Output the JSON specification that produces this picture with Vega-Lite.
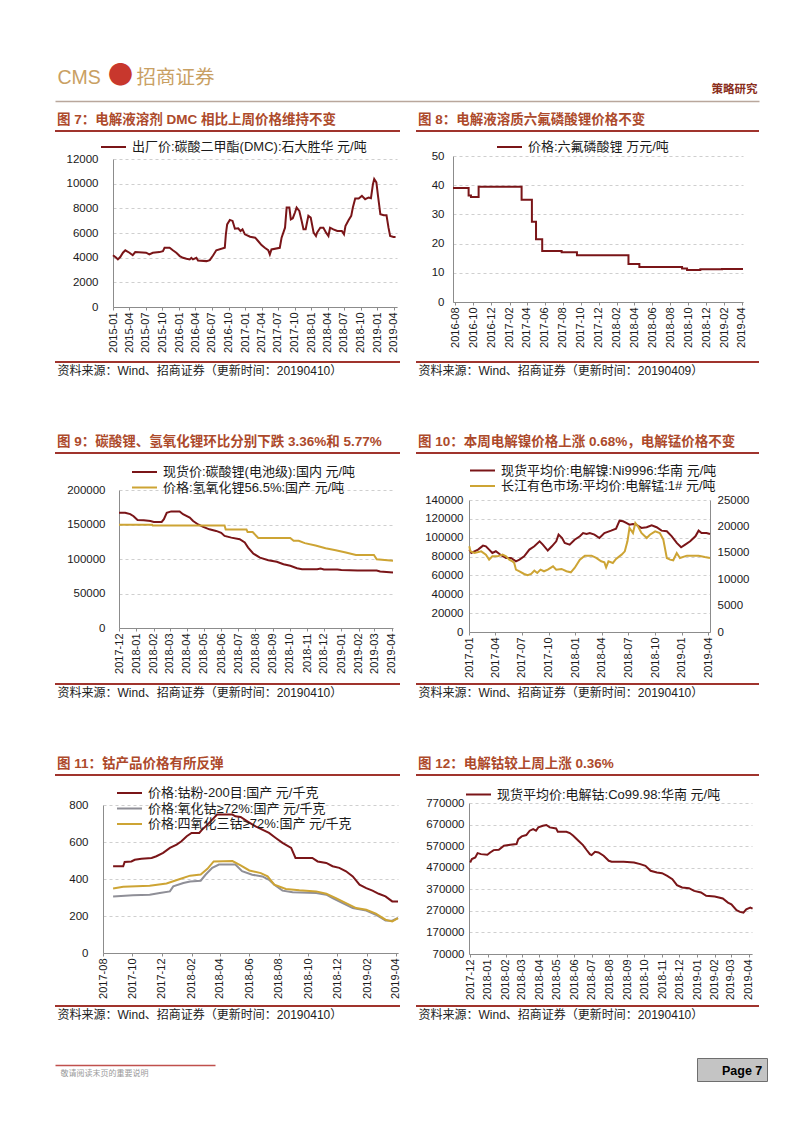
{
"$schema": "https://vega.github.io/schema/vega-lite/v6.json",
"background": "white",
"padding": {"left": 54, "top": 20, "right": 0, "bottom": 0},
"autosize": {"type": "pad"},
"columns": 2,
"spacing": {"row": 91, "column": 16},
"bounds": "flush",
"align": "each",
"resolve": {"scale": {"color": "independent"}, "legend": {"color": "independent"}},
"config": {
  "font": "Liberation Sans, Noto Sans CJK SC, sans-serif",
  "view": {"stroke": null},
  "title": {"fontSize": 13.5, "fontWeight": "bold", "color": "#AD4A2B", "anchor": "start", "frame": "group", "offset": 5, "dx": 2, "baseline": "alphabetic", "font": "Liberation Sans, Noto Sans CJK SC"},
  "axis": {"labelFont": "Liberation Sans, Noto Sans CJK SC", "labelFontSize": 11.5, "labelColor": "#1a1a1a", "domainColor": "#8C8C8C", "tickColor": "#8C8C8C", "gridColor": "#CFCFCF", "gridDash": [3, 3], "labelFlush": false, "labelOverlap": false, "labelBound": false, "titleFont": "Liberation Sans, Noto Sans CJK SC", "titleFontWeight": "normal", "titleFontSize": 12, "titleColor": "#222222"},
  "axisX": {"labelAngle": -90, "labelAlign": "right", "labelBaseline": "middle", "tickSize": 3, "labelPadding": 2, "grid": false, "labelFontSize": 11, "titleAlign": "left", "titleAnchor": "start", "titleBaseline": "alphabetic", "titleX": 2},
  "axisY": {"ticks": false, "grid": true, "format": "d"},
  "legend": {"orient": "none", "symbolType": "M-6.25,0H6.25", "symbolSize": 16, "symbolStrokeWidth": 2.5, "symbolOffset": 5, "labelFontSize": 13, "labelFont": "Liberation Sans, Noto Sans CJK SC", "labelColor": "#1a1a1a", "labelLimit": 500, "padding": 0, "rowPadding": 1.5, "labelOffset": 12},
  "line": {"strokeWidth": 2}
},
"datasets": {
  "d7": [
    {"d":"2015/01/01","v":4200},{"d":"2015/01/19","v":3990},{"d":"2015/01/28","v":3860},{"d":"2015/02/10","v":4050},{"d":"2015/02/25","v":4400},{"d":"2015/03/10","v":4600},{"d":"2015/04/02","v":4400},{"d":"2015/04/20","v":4200},{"d":"2015/05/04","v":4450},{"d":"2015/07/03","v":4400},{"d":"2015/07/21","v":4260},{"d":"2015/08/09","v":4400},{"d":"2015/09/15","v":4450},{"d":"2015/10/04","v":4530},{"d":"2015/10/13","v":4800},{"d":"2015/11/10","v":4800},{"d":"2015/11/28","v":4600},{"d":"2015/12/17","v":4400},
    {"d":"2016/01/05","v":4130},{"d":"2016/01/23","v":3990},{"d":"2016/02/11","v":3910},{"d":"2016/02/29","v":3860},{"d":"2016/03/09","v":3990},{"d":"2016/03/18","v":3860},{"d":"2016/04/06","v":3990},{"d":"2016/04/15","v":3770},{"d":"2016/06/01","v":3720},{"d":"2016/06/19","v":3800},{"d":"2016/07/07","v":4180},{"d":"2016/07/25","v":4600},{"d":"2016/09/10","v":4800},{"d":"2016/09/16","v":5900},{"d":"2016/09/23","v":6700},{"d":"2016/10/08","v":7060},{"d":"2016/10/23","v":6980},{"d":"2016/11/05","v":6350},{"d":"2016/11/23","v":6380},{"d":"2016/12/06","v":6160},{"d":"2016/12/17","v":6300},{"d":"2016/12/30","v":5890},
    {"d":"2017/01/28","v":5700},{"d":"2017/02/25","v":5620},{"d":"2017/03/13","v":5350},{"d":"2017/04/01","v":5020},{"d":"2017/04/19","v":4800},{"d":"2017/05/08","v":4610},{"d":"2017/05/17","v":4260},{"d":"2017/05/26","v":4670},{"d":"2017/07/11","v":4800},{"d":"2017/07/21","v":5620},{"d":"2017/08/09","v":6430},{"d":"2017/08/18","v":8060},{"d":"2017/09/02","v":8060},{"d":"2017/09/10","v":7110},{"d":"2017/09/21","v":7200},{"d":"2017/10/03","v":7660},{"d":"2017/10/12","v":8060},{"d":"2017/10/27","v":7790},{"d":"2017/11/09","v":6980},{"d":"2017/11/19","v":6300},{"d":"2017/12/01","v":6300},{"d":"2017/12/16","v":7390},{"d":"2017/12/29","v":7250},
    {"d":"2018/01/14","v":6030},{"d":"2018/01/27","v":5760},{"d":"2018/02/02","v":6030},{"d":"2018/02/20","v":6430},{"d":"2018/03/09","v":6430},{"d":"2018/03/24","v":6030},{"d":"2018/04/06","v":5760},{"d":"2018/04/15","v":6430},{"d":"2018/05/03","v":6300},{"d":"2018/05/25","v":6160},{"d":"2018/06/19","v":6160},{"d":"2018/07/01","v":5890},{"d":"2018/07/09","v":6570},{"d":"2018/07/26","v":7030},{"d":"2018/08/10","v":7390},{"d":"2018/08/19","v":8060},{"d":"2018/09/01","v":8800},{"d":"2018/09/20","v":8800},{"d":"2018/10/08","v":9010},{"d":"2018/10/26","v":8740},{"d":"2018/11/14","v":8880},{"d":"2018/11/27","v":8820},{"d":"2018/12/08","v":9960},{"d":"2018/12/15","v":10380},{"d":"2018/12/27","v":10100},
    {"d":"2019/01/05","v":9010},{"d":"2019/01/18","v":7520},{"d":"2019/02/06","v":7440},{"d":"2019/02/21","v":7440},{"d":"2019/03/04","v":6430},{"d":"2019/03/13","v":5760},{"d":"2019/04/01","v":5680},{"d":"2019/04/12","v":5680}
  ],
  "d8": [
    {"d":"2016/07/24","v":39},{"d":"2016/09/15","v":36.5},{"d":"2016/09/23","v":36},{"d":"2016/10/19","v":39.5},{"d":"2017/03/14","v":35},{"d":"2017/04/18","v":27.5},{"d":"2017/05/02","v":21.5},{"d":"2017/05/23","v":17.5},{"d":"2017/07/28","v":17},{"d":"2017/09/18","v":16},{"d":"2018/03/12","v":13},{"d":"2018/04/18","v":12},{"d":"2018/09/10","v":11.5},{"d":"2018/09/27","v":11},{"d":"2018/11/11","v":11.2},{"d":"2019/01/24","v":11.3},{"d":"2019/04/05","v":11.3}
  ],
  "d9a": [
    {"d":"2017/12/01","v":167000},{"d":"2017/12/12","v":167000},{"d":"2017/12/21","v":165000},{"d":"2017/12/27","v":162000},{"d":"2018/01/03","v":156600},{"d":"2018/01/14","v":156000},{"d":"2018/01/26","v":155000},{"d":"2018/02/01","v":153700},{"d":"2018/02/15","v":153700},{"d":"2018/02/19","v":157600},{"d":"2018/02/24","v":167000},{"d":"2018/03/04","v":169000},{"d":"2018/03/19","v":169000},{"d":"2018/03/25","v":165000},{"d":"2018/04/06","v":160000},{"d":"2018/04/12","v":155000},{"d":"2018/04/21","v":150000},{"d":"2018/04/30","v":146500},{"d":"2018/05/11","v":143000},{"d":"2018/05/23","v":140700},{"d":"2018/06/01","v":138000},{"d":"2018/06/07","v":133500},{"d":"2018/06/19","v":131000},{"d":"2018/07/04","v":128700},{"d":"2018/07/13","v":123900},{"d":"2018/07/19","v":116600},{"d":"2018/07/28","v":108000},{"d":"2018/08/09","v":102000},{"d":"2018/08/24","v":98300},{"d":"2018/09/08","v":95900},{"d":"2018/09/20","v":92500},{"d":"2018/10/02","v":90100},{"d":"2018/10/14","v":86700},{"d":"2018/10/23","v":85300},{"d":"2018/11/19","v":85300},{"d":"2018/11/25","v":86300},{"d":"2018/12/01","v":84800},{"d":"2018/12/25","v":84800},{"d":"2019/01/01","v":83900},{"d":"2019/01/30","v":83400},{"d":"2019/03/05","v":83400},{"d":"2019/03/11","v":81900},{"d":"2019/04/03","v":80500}
  ],
  "d9b": [
    {"d":"2017/12/01","v":149500},{"d":"2018/01/29","v":149500},{"d":"2018/01/30","v":148500},{"d":"2018/06/07","v":148500},{"d":"2018/06/09","v":142700},{"d":"2018/07/16","v":142700},{"d":"2018/07/18","v":139200},{"d":"2018/07/27","v":139200},{"d":"2018/08/06","v":130400},{"d":"2018/10/02","v":130400},{"d":"2018/10/08","v":126500},{"d":"2018/10/17","v":126500},{"d":"2018/10/28","v":123000},{"d":"2018/11/16","v":119600},{"d":"2018/12/04","v":115700},{"d":"2018/12/22","v":112800},{"d":"2019/01/09","v":109300},{"d":"2019/01/27","v":105900},{"d":"2019/02/28","v":105900},{"d":"2019/03/05","v":99500},{"d":"2019/04/03","v":97500}
  ],
  "d10a": [
    {"d":"2017/01/02","v":87400},{"d":"2017/01/09","v":83800},{"d":"2017/02/01","v":87400},{"d":"2017/02/18","v":91600},{"d":"2017/02/28","v":90900},{"d":"2017/03/11","v":87400},{"d":"2017/03/22","v":83800},{"d":"2017/04/03","v":85600},{"d":"2017/04/21","v":81400},{"d":"2017/05/08","v":78500},{"d":"2017/05/25","v":78500},{"d":"2017/06/11","v":75000},{"d":"2017/06/23","v":76700},{"d":"2017/07/09","v":80300},{"d":"2017/07/27","v":87400},{"d":"2017/08/13","v":90900},{"d":"2017/08/31","v":96200},{"d":"2017/09/11","v":92700},{"d":"2017/09/28","v":86400},{"d":"2017/10/12","v":90900},{"d":"2017/10/27","v":96200},{"d":"2017/11/04","v":103300},{"d":"2017/11/16","v":99700},{"d":"2017/11/25","v":94500},{"d":"2017/12/12","v":92700},{"d":"2017/12/29","v":97900},
    {"d":"2018/01/16","v":101500},{"d":"2018/01/27","v":105000},{"d":"2018/02/08","v":104000},{"d":"2018/02/19","v":105000},{"d":"2018/03/07","v":103300},{"d":"2018/03/24","v":99700},{"d":"2018/04/10","v":105000},{"d":"2018/05/03","v":107500},{"d":"2018/05/20","v":109600},{"d":"2018/06/01","v":118100},{"d":"2018/06/13","v":117400},{"d":"2018/06/24","v":115700},{"d":"2018/07/05","v":113900},{"d":"2018/07/17","v":114600},{"d":"2018/07/28","v":113900},{"d":"2018/08/15","v":110400},{"d":"2018/09/02","v":111100},{"d":"2018/09/19","v":113200},{"d":"2018/10/06","v":111100},{"d":"2018/10/23","v":107500},{"d":"2018/11/10","v":106800},{"d":"2018/11/27","v":101500},{"d":"2018/12/14","v":94500},{"d":"2018/12/29","v":89900},
    {"d":"2019/01/12","v":92700},{"d":"2019/01/29","v":96200},{"d":"2019/02/16","v":101500},{"d":"2019/02/27","v":107500},{"d":"2019/03/09","v":105000},{"d":"2019/03/26","v":105000},{"d":"2019/04/07","v":104000}
  ],
  "d10b": [
    {"d":"2017/01/02","v":16230},{"d":"2017/01/06","v":15280},{"d":"2017/01/20","v":14960},{"d":"2017/02/12","v":15280},{"d":"2017/02/28","v":14650},{"d":"2017/03/11","v":13710},{"d":"2017/03/22","v":14330},{"d":"2017/04/09","v":14330},{"d":"2017/04/26","v":14650},{"d":"2017/05/08","v":14330},{"d":"2017/05/19","v":13710},{"d":"2017/05/30","v":13390},{"d":"2017/06/05","v":13070},{"d":"2017/06/11","v":11810},{"d":"2017/06/23","v":11500},{"d":"2017/07/09","v":10990},{"d":"2017/07/21","v":10740},{"d":"2017/08/02","v":10990},{"d":"2017/08/13","v":11620},{"d":"2017/08/23","v":11180},{"d":"2017/09/03","v":11810},{"d":"2017/09/15","v":11500},{"d":"2017/09/28","v":11810},{"d":"2017/10/16","v":12440},{"d":"2017/10/27","v":11810},{"d":"2017/11/14","v":11940},{"d":"2017/12/01","v":11500},{"d":"2017/12/16","v":11300},{"d":"2017/12/29","v":12130},
    {"d":"2018/01/16","v":13710},{"d":"2018/02/02","v":14460},{"d":"2018/02/25","v":14460},{"d":"2018/03/13","v":14020},{"d":"2018/03/30","v":13390},{"d":"2018/04/10","v":13200},{"d":"2018/04/16","v":12250},{"d":"2018/04/24","v":13390},{"d":"2018/05/09","v":13070},{"d":"2018/05/20","v":13830},{"d":"2018/06/08","v":14650},{"d":"2018/06/19","v":15280},{"d":"2018/06/28","v":17170},{"d":"2018/07/05","v":19700},{"d":"2018/07/17","v":18750},{"d":"2018/07/25","v":20650},{"d":"2018/08/03","v":20020},{"d":"2018/08/15","v":18750},{"d":"2018/09/02","v":17800},{"d":"2018/09/13","v":18430},{"d":"2018/10/01","v":19070},{"d":"2018/10/17","v":18750},{"d":"2018/10/29","v":17490},{"d":"2018/11/10","v":14020},{"d":"2018/11/21","v":13710},{"d":"2018/12/02","v":13580},{"d":"2018/12/14","v":14960},{"d":"2018/12/25","v":14020},
    {"d":"2019/01/18","v":14460},{"d":"2019/02/27","v":14460},{"d":"2019/03/20","v":14200},{"d":"2019/04/07","v":14020}
  ],
  "d11a": [
    {"d":"2017/08/22","v":469},{"d":"2017/09/12","v":469},{"d":"2017/09/15","v":492},{"d":"2017/09/29","v":495},{"d":"2017/10/06","v":504},{"d":"2017/10/20","v":510},{"d":"2017/11/10","v":514},{"d":"2017/11/20","v":523},{"d":"2017/12/04","v":541},{"d":"2017/12/18","v":568},{"d":"2018/01/01","v":586},{"d":"2018/01/11","v":604},{"d":"2018/01/22","v":631},{"d":"2018/02/01","v":649},{"d":"2018/02/17","v":649},{"d":"2018/02/23","v":667},{"d":"2018/03/06","v":694},{"d":"2018/03/16","v":721},{"d":"2018/03/26","v":748},{"d":"2018/04/27","v":748},{"d":"2018/05/03","v":739},{"d":"2018/05/14","v":735},{"d":"2018/05/28","v":712},{"d":"2018/06/14","v":685},{"d":"2018/06/28","v":667},{"d":"2018/07/12","v":649},{"d":"2018/07/26","v":622},{"d":"2018/08/09","v":595},{"d":"2018/08/27","v":568},{"d":"2018/09/05","v":514},{"d":"2018/10/10","v":514},{"d":"2018/10/21","v":495},{"d":"2018/11/08","v":487},{"d":"2018/11/21","v":469},{"d":"2018/12/05","v":460},{"d":"2018/12/19","v":442},{"d":"2019/01/02","v":414},{"d":"2019/01/16","v":369},{"d":"2019/01/30","v":351},{"d":"2019/02/12","v":337},{"d":"2019/02/25","v":320},{"d":"2019/03/11","v":306},{"d":"2019/03/25","v":279},{"d":"2019/04/06","v":279}
  ],
  "d11b": [
    {"d":"2017/08/22","v":306},{"d":"2017/10/02","v":312},{"d":"2017/11/06","v":315},{"d":"2017/11/27","v":324},{"d":"2017/12/18","v":333},{"d":"2017/12/25","v":360},{"d":"2018/01/15","v":378},{"d":"2018/01/29","v":387},{"d":"2018/02/20","v":391},{"d":"2018/03/02","v":423},{"d":"2018/03/16","v":460},{"d":"2018/03/30","v":478},{"d":"2018/05/03","v":478},{"d":"2018/05/17","v":442},{"d":"2018/06/07","v":423},{"d":"2018/06/28","v":414},{"d":"2018/07/12","v":396},{"d":"2018/07/23","v":369},{"d":"2018/08/09","v":337},{"d":"2018/08/30","v":328},{"d":"2018/10/18","v":324},{"d":"2018/11/08","v":315},{"d":"2018/11/21","v":297},{"d":"2018/12/12","v":270},{"d":"2019/01/02","v":243},{"d":"2019/01/30","v":229},{"d":"2019/02/19","v":207},{"d":"2019/03/11","v":176},{"d":"2019/03/25","v":175},{"d":"2019/04/06","v":189}
  ],
  "d11c": [
    {"d":"2017/08/22","v":349},{"d":"2017/09/12","v":358},{"d":"2017/11/06","v":364},{"d":"2017/12/11","v":376},{"d":"2018/01/08","v":400},{"d":"2018/01/29","v":418},{"d":"2018/02/20","v":424},{"d":"2018/03/06","v":455},{"d":"2018/03/19","v":495},{"d":"2018/04/27","v":497},{"d":"2018/05/14","v":473},{"d":"2018/06/01","v":446},{"d":"2018/06/25","v":432},{"d":"2018/07/09","v":414},{"d":"2018/07/23","v":369},{"d":"2018/08/16","v":346},{"d":"2018/09/13","v":339},{"d":"2018/10/18","v":333},{"d":"2018/11/08","v":320},{"d":"2018/11/28","v":297},{"d":"2018/12/19","v":270},{"d":"2019/01/09","v":243},{"d":"2019/01/30","v":234},{"d":"2019/02/19","v":213},{"d":"2019/03/11","v":180},{"d":"2019/03/25","v":171},{"d":"2019/04/06","v":189}
  ],
  "d12": [
    {"d":"2017/12/01","v":494300},{"d":"2017/12/04","v":510000},{"d":"2017/12/10","v":517600},{"d":"2017/12/14","v":537700},{"d":"2017/12/20","v":533000},{"d":"2017/12/31","v":530000},{"d":"2018/01/05","v":540800},{"d":"2018/01/11","v":551600},{"d":"2018/01/20","v":553000},{"d":"2018/01/29","v":571800},{"d":"2018/02/09","v":576400},{"d":"2018/02/20","v":579500},{"d":"2018/02/23","v":602700},{"d":"2018/03/01","v":615100},{"d":"2018/03/09","v":621300},{"d":"2018/03/15","v":641500},{"d":"2018/03/21","v":649200},{"d":"2018/03/26","v":641500},{"d":"2018/03/30","v":657000},{"d":"2018/04/07","v":664700},{"d":"2018/04/13","v":667800},{"d":"2018/04/19","v":657000},{"d":"2018/04/30","v":652300},{"d":"2018/05/03","v":636800},{"d":"2018/05/18","v":636800},{"d":"2018/05/24","v":630600},{"d":"2018/05/30","v":618200},{"d":"2018/06/08","v":595000},{"d":"2018/06/16","v":574900},{"d":"2018/06/22","v":553200},{"d":"2018/06/28","v":533000},{"d":"2018/07/01","v":528400},{"d":"2018/07/07","v":543900},{"d":"2018/07/13","v":540800},{"d":"2018/07/22","v":525300},{"d":"2018/07/31","v":502100},{"d":"2018/08/05","v":497400},{"d":"2018/08/26","v":497400},{"d":"2018/09/13","v":494300},{"d":"2018/09/24","v":486600},{"d":"2018/10/03","v":478800},{"d":"2018/10/12","v":455600},{"d":"2018/10/23","v":447900},{"d":"2018/11/01","v":444800},{"d":"2018/11/10","v":432400},{"d":"2018/11/19","v":416900},{"d":"2018/11/27","v":389000},{"d":"2018/12/06","v":378200},{"d":"2018/12/18","v":375100},{"d":"2018/12/27","v":362700},{"d":"2019/01/08","v":355000},{"d":"2019/01/17","v":339500},{"d":"2019/02/01","v":336400},{"d":"2019/02/15","v":327100},{"d":"2019/02/24","v":308500},{"d":"2019/03/02","v":300700},{"d":"2019/03/11","v":272900},{"d":"2019/03/17","v":265100},{"d":"2019/03/23","v":262000},{"d":"2019/03/28","v":277500},{"d":"2019/04/04","v":285300},{"d":"2019/04/08","v":280600}
  ]
},
"concat": [
  {
    "width": 345, "height": 0,
    "data": {"values": []},
    "mark": "point",
    "encoding": {"x": {"field": "v", "type": "quantitative", "scale": {"domain": [0, 1], "range": [0, 704]},
      "axis": {"offset": 61, "domain": true, "domainColor": "#B9A79C", "domainWidth": 1.5, "ticks": false, "tickSize": 0, "grid": false,
        "values": [0.0028, 0.0746, 0.115], "labelAngle": 0, "labelAlign": "left", "labelBaseline": "alphabetic", "labelPadding": -18,
        "labelExpr": "datum.value < 0.01 ? 'CMS' : (datum.value < 0.1 ? '●' : '招商证券')",
        "labelColor": {"condition": {"test": "datum.value > 0.01 && datum.value < 0.1", "value": "#C8372D"}, "value": "#C9A063"},
        "labelFontSize": {"condition": {"test": "datum.value > 0.01 && datum.value < 0.1", "value": 25}, "value": 19.5},
        "labelFont": {"condition": {"test": "datum.value > 0.01 && datum.value < 0.1", "value": "Noto Sans CJK SC"}, "value": "Liberation Sans, Noto Sans CJK SC"},
        "title": null}}}
  },
  {
    "width": 343, "height": 0,
    "data": {"values": []},
    "mark": "point",
    "encoding": {"x": {"field": "v", "type": "quantitative", "scale": {"domain": [0, 1], "range": [0, 343]},
      "axis": {"offset": 61, "domain": false, "ticks": false, "labels": false, "grid": false,
        "title": "策略研究", "titleX": 341, "titleY": -9, "titleAlign": "right", "titleAnchor": "end", "titleBaseline": "alphabetic", "titleFontSize": 11.5, "titleFontWeight": "bold", "titleColor": "#8A2E1C", "titleFont": "Noto Sans CJK SC"}}}
  },
  {
    "width": 345, "height": 231,
    "view": {"stroke": "#A0342D", "strokeWidth": 2, "strokeDash": [345, 231, 345, 231]},
    "title": {"text": "图 7：电解液溶剂 DMC 相比上周价格维持不变"},
    "data": {"name": "d7"},
    "mark": "line",
    "encoding": {
      "x": {"field": "d", "type": "temporal",
        "scale": {"domain": [{"year": 2015, "month": 1, "date": 1}, {"year": 2019, "month": 4, "date": 20}], "range": [58, 342]},
        "axis": {"offset": -55, "format": "%Y-%m", "title": "资料来源：Wind、招商证券（更新时间：20190410）", "titleY": 67,
          "values": [{"year":2015,"month":1},{"year":2015,"month":4},{"year":2015,"month":7},{"year":2015,"month":10},{"year":2016,"month":1},{"year":2016,"month":4},{"year":2016,"month":7},{"year":2016,"month":10},{"year":2017,"month":1},{"year":2017,"month":4},{"year":2017,"month":7},{"year":2017,"month":10},{"year":2018,"month":1},{"year":2018,"month":4},{"year":2018,"month":7},{"year":2018,"month":10},{"year":2019,"month":1},{"year":2019,"month":4}]}},
      "y": {"field": "v", "type": "quantitative",
        "scale": {"domain": [0, 12000], "range": [176, 28], "nice": false, "zero": false},
        "axis": {"offset": -58, "values": [0, 2000, 4000, 6000, 8000, 10000, 12000], "labelPadding": 15, "title": null}},
      "color": {"datum": "出厂价:碳酸二甲酯(DMC):石大胜华 元/吨", "scale": {"range": ["#7A1518"]},
        "legend": {"legendX": 47, "legendY": 9.5, "title": null}}
    }
  },
  {
    "width": 343, "height": 231,
    "view": {"stroke": "#A0342D", "strokeWidth": 2, "strokeDash": [343, 231, 343, 231]},
    "title": {"text": "图 8：电解液溶质六氟磷酸锂价格不变"},
    "data": {"name": "d8"},
    "mark": {"type": "line", "interpolate": "step-after"},
    "encoding": {
      "x": {"field": "d", "type": "temporal",
        "scale": {"domain": [{"year": 2016, "month": 7, "date": 24}, {"year": 2019, "month": 4, "date": 5}], "range": [37, 327]},
        "axis": {"offset": -60, "format": "%Y-%m", "title": "资料来源：Wind、招商证券（更新时间：20190409）", "titleY": 72,
          "values": [{"year":2016,"month":8},{"year":2016,"month":10},{"year":2016,"month":12},{"year":2017,"month":2},{"year":2017,"month":4},{"year":2017,"month":6},{"year":2017,"month":8},{"year":2017,"month":10},{"year":2017,"month":12},{"year":2018,"month":2},{"year":2018,"month":4},{"year":2018,"month":6},{"year":2018,"month":8},{"year":2018,"month":10},{"year":2018,"month":12},{"year":2019,"month":2},{"year":2019,"month":4}]}},
      "y": {"field": "v", "type": "quantitative",
        "scale": {"domain": [0, 50], "range": [171, 25], "nice": false, "zero": false},
        "axis": {"offset": -37, "values": [0, 10, 20, 30, 40, 50], "labelPadding": 9, "title": null}},
      "color": {"datum": "价格:六氟磷酸锂 万元/吨", "scale": {"range": ["#7A1518"]},
        "legend": {"legendX": 82, "legendY": 9.5, "title": null}}
    }
  },
  {
    "width": 345, "height": 231,
    "view": {"stroke": "#A0342D", "strokeWidth": 2, "strokeDash": [345, 231, 345, 231]},
    "title": {"text": "图 9：碳酸锂、氢氧化锂环比分别下跌 3.36%和 5.77%"},
    "encoding": {
      "x": {"field": "d", "type": "temporal",
        "scale": {"domain": [{"year": 2017, "month": 12, "date": 1}, {"year": 2019, "month": 4, "date": 3}], "range": [64, 338]},
        "axis": {"offset": -56, "format": "%Y-%m", "title": "资料来源：Wind、招商证券（更新时间：20190410）", "titleY": 68,
          "values": [{"year":2017,"month":12},{"year":2018,"month":1},{"year":2018,"month":2},{"year":2018,"month":3},{"year":2018,"month":4},{"year":2018,"month":5},{"year":2018,"month":6},{"year":2018,"month":7},{"year":2018,"month":8},{"year":2018,"month":9},{"year":2018,"month":10},{"year":2018,"month":11},{"year":2018,"month":12},{"year":2019,"month":1},{"year":2019,"month":2},{"year":2019,"month":3},{"year":2019,"month":4}]}},
      "y": {"field": "v", "type": "quantitative",
        "scale": {"domain": [0, 200000], "range": [175, 37], "nice": false, "zero": false},
        "axis": {"offset": -64, "values": [0, 50000, 100000, 150000, 200000], "labelPadding": 14, "title": null}}
    },
    "layer": [
      {"data": {"name": "d9a"}, "mark": "line",
       "encoding": {"color": {"datum": "现货价:碳酸锂(电池级):国内 元/吨",
         "scale": {"domain": ["现货价:碳酸锂(电池级):国内 元/吨", "价格:氢氧化锂56.5%:国产 元/吨"], "range": ["#7A1518", "#CDA434"]},
         "legend": {"legendX": 78, "legendY": 12.5, "title": null}}}},
      {"data": {"name": "d9b"}, "mark": "line",
       "encoding": {"color": {"datum": "价格:氢氧化锂56.5%:国产 元/吨"}}}
    ]
  },
  {
    "width": 343, "height": 231,
    "view": {"stroke": "#A0342D", "strokeWidth": 2, "strokeDash": [343, 231, 343, 231]},
    "title": {"text": "图 10：本周电解镍价格上涨 0.68%，电解锰价格不变"},
    "encoding": {
      "x": {"field": "d", "type": "temporal",
        "scale": {"domain": [{"year": 2017, "month": 1, "date": 1}, {"year": 2019, "month": 4, "date": 7}], "range": [53, 294]},
        "axis": {"offset": -52, "format": "%Y-%m", "title": "资料来源：Wind、招商证券（更新时间：20190410）", "titleY": 64,
          "values": [{"year":2017,"month":1},{"year":2017,"month":4},{"year":2017,"month":7},{"year":2017,"month":10},{"year":2018,"month":1},{"year":2018,"month":4},{"year":2018,"month":7},{"year":2018,"month":10},{"year":2019,"month":1},{"year":2019,"month":4}]}}
    },
    "layer": [
      {"data": {"name": "d10a"}, "mark": "line",
       "encoding": {
         "y": {"field": "v", "type": "quantitative",
           "scale": {"domain": [0, 140000], "range": [179, 47], "nice": false, "zero": false},
           "axis": {"offset": -53, "values": [0, 20000, 40000, 60000, 80000, 100000, 120000, 140000], "labelPadding": 6, "title": null}},
         "color": {"datum": "现货平均价:电解镍:Ni9996:华南 元/吨",
           "scale": {"domain": ["现货平均价:电解镍:Ni9996:华南 元/吨", "长江有色市场:平均价:电解锰:1# 元/吨"], "range": ["#7A1518", "#CDA434"]},
           "legend": {"legendX": 55, "legendY": 11, "title": null}}}},
      {"data": {"name": "d10b"}, "mark": "line",
       "encoding": {
         "y": {"field": "v", "type": "quantitative",
           "scale": {"domain": [0, 25000], "range": [179, 47], "nice": false, "zero": false},
           "axis": {"orient": "right", "offset": -49, "values": [0, 5000, 10000, 15000, 20000, 25000], "labelPadding": 7, "grid": false, "title": null}},
         "color": {"datum": "长江有色市场:平均价:电解锰:1# 元/吨"}}}
    ],
    "resolve": {"scale": {"y": "independent"}}
  },
  {
    "width": 345, "height": 231,
    "view": {"stroke": "#A0342D", "strokeWidth": 2, "strokeDash": [345, 231, 345, 231]},
    "title": {"text": "图 11：钴产品价格有所反弹"},
    "encoding": {
      "x": {"field": "d", "type": "temporal",
        "scale": {"domain": [{"year": 2017, "month": 8, "date": 1}, {"year": 2019, "month": 4, "date": 6}], "range": [48, 343]},
        "axis": {"offset": -53, "format": "%Y-%m", "title": "资料来源：Wind、招商证券（更新时间：20190410）", "titleY": 65,
          "values": [{"year":2017,"month":8},{"year":2017,"month":10},{"year":2017,"month":12},{"year":2018,"month":2},{"year":2018,"month":4},{"year":2018,"month":6},{"year":2018,"month":8},{"year":2018,"month":10},{"year":2018,"month":12},{"year":2019,"month":2},{"year":2019,"month":4}]}},
      "y": {"field": "v", "type": "quantitative",
        "scale": {"domain": [0, 800], "range": [178, 30], "nice": false, "zero": false},
        "axis": {"offset": -48, "values": [0, 200, 400, 600, 800], "labelPadding": 15, "title": null}}
    },
    "layer": [
      {"data": {"name": "d11a"}, "mark": "line",
       "encoding": {"color": {"datum": "价格:钴粉-200目:国产 元/千克",
         "scale": {"domain": ["价格:钴粉-200目:国产 元/千克", "价格:氧化钴≥72%:国产 元/千克", "价格:四氧化三钴≥72%:国产 元/千克"], "range": ["#7A1518", "#8F8F97", "#CDA434"]},
         "legend": {"legendX": 63, "legendY": 11.5, "title": null}}}},
      {"data": {"name": "d11b"}, "mark": "line",
       "encoding": {"color": {"datum": "价格:氧化钴≥72%:国产 元/千克"}}},
      {"data": {"name": "d11c"}, "mark": "line",
       "encoding": {"color": {"datum": "价格:四氧化三钴≥72%:国产 元/千克"}}}
    ]
  },
  {
    "width": 343, "height": 231,
    "view": {"stroke": "#A0342D", "strokeWidth": 2, "strokeDash": [343, 231, 343, 231]},
    "title": {"text": "图 12：电解钴较上周上涨 0.36%"},
    "data": {"name": "d12"},
    "mark": "line",
    "encoding": {
      "x": {"field": "d", "type": "temporal",
        "scale": {"domain": [{"year": 2017, "month": 11, "date": 29}, {"year": 2019, "month": 4, "date": 7}], "range": [53, 336]},
        "axis": {"offset": -52, "format": "%Y-%m", "title": "资料来源：Wind、招商证券（更新时间：20190410）", "titleY": 64,
          "values": [{"year":2017,"month":12},{"year":2018,"month":1},{"year":2018,"month":2},{"year":2018,"month":3},{"year":2018,"month":4},{"year":2018,"month":5},{"year":2018,"month":6},{"year":2018,"month":7},{"year":2018,"month":8},{"year":2018,"month":9},{"year":2018,"month":10},{"year":2018,"month":11},{"year":2018,"month":12},{"year":2019,"month":1},{"year":2019,"month":2},{"year":2019,"month":3},{"year":2019,"month":4}]}},
      "y": {"field": "v", "type": "quantitative",
        "scale": {"domain": [70000, 770000], "range": [179, 28], "nice": false, "zero": false},
        "axis": {"offset": -53, "values": [70000, 170000, 270000, 370000, 470000, 570000, 670000, 770000], "labelPadding": 5, "title": null}},
      "color": {"datum": "现货平均价:电解钴:Co99.98:华南 元/吨", "scale": {"range": ["#7A1518"]},
        "legend": {"legendX": 51, "legendY": 13, "title": null}}
    }
  },
  {
    "width": 345, "height": 0,
    "data": {"values": []},
    "mark": "point",
    "encoding": {"x": {"field": "v", "type": "quantitative", "scale": {"domain": [0, 1], "range": [0, 160]},
      "axis": {"offset": -52, "domainColor": "#C0504D", "domainWidth": 1.5, "ticks": false, "labels": false, "grid": false,
        "title": "敬请阅读末页的重要说明", "titleX": 5, "titleY": 10, "titleFontSize": 8, "titleColor": "#9A9A9A"}}}
  },
  {
    "width": 343, "height": 0,
    "data": {"values": [{"p": "Page 7"}]},
    "mark": {"type": "point", "opacity": 0},
    "encoding": {"color": {"field": "p", "type": "nominal", "scale": {"range": ["#000000"]},
      "legend": {"orient": "none", "legendX": 281, "legendY": -39, "title": null, "fillColor": "#C4C4C4", "strokeColor": "#6E6E6E", "padding": 4, "symbolOpacity": 0, "symbolStrokeWidth": 0, "symbolOffset": 0, "symbolType": "stroke", "symbolSize": 289, "labelFontSize": 12.5, "labelFontWeight": "bold", "labelFont": "Liberation Sans Narrow, Liberation Sans", "labelColor": "#000000", "labelOffset": 4, "rowPadding": 0}}}
  }
]
}
